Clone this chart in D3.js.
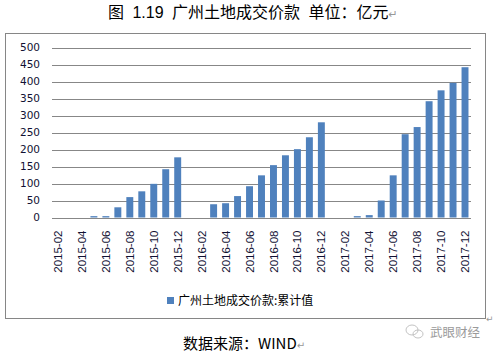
<!DOCTYPE html>
<html><head><meta charset="utf-8">
<script src="https://cdn.jsdelivr.net/npm/d3@7"></script>
<style>html,body{margin:0;padding:0;background:#fff;}</style>
</head><body>
<svg id="c" width="494" height="356"></svg>
<script>
const months = ["2015-02","2015-03","2015-04","2015-05","2015-06","2015-07","2015-08","2015-09","2015-10","2015-11","2015-12",
"2016-01","2016-02","2016-03","2016-04","2016-05","2016-06","2016-07","2016-08","2016-09","2016-10","2016-11","2016-12",
"2017-01","2017-02","2017-03","2017-04","2017-05","2017-06","2017-07","2017-08","2017-09","2017-10","2017-11","2017-12"];
const values = [0,0,0,4,4,30,60,77,99,142,177,
0,0,39,42,63,92,124,154,183,201,236,280,
0,0,4,7,50,124,245,266,342,374,396,442];
const yTicks = [0,50,100,150,200,250,300,350,400,450,500];
const titleText = "图 1.19 广州土地成交价款 单位：亿元";
const legendText = "广州土地成交价款:累计值";
const sourceText = "数据来源：WIND";
const watermark = "武眼财经";

const svg = d3.select("#c");
const pL = 52, pR = 471, pT = 47.5, pB = 217.5;
const x = d3.scaleBand().domain(months).range([pL, pR]).paddingInner(0.42).paddingOuter(0.21);
const y = d3.scaleLinear().domain([0, 500]).range([pB, pT]);

// title
const t = svg.append("text").attr("x", 108).attr("y", 18).attr("font-family", "Liberation Sans, Noto Sans CJK SC").attr("font-size", 16).attr("word-spacing", 4).attr("fill", "#000");
t.append("tspan").text(titleText);
t.append("tspan").attr("fill", "#999").attr("font-size", 11).attr("font-family", "DejaVu Sans").text("↵");

// border
svg.append("rect").attr("x", 5.5).attr("y", 33.5).attr("width", 480).attr("height", 285).attr("fill", "none").attr("stroke", "#868686");
svg.append("text").attr("x", 486).attr("y", 322).attr("font-family", "DejaVu Sans").attr("font-size", 9).attr("fill", "#999").text("↵");

// gridlines
const yAxis = d3.axisLeft(y).tickValues(yTicks).tickSize(-(pR - pL)).tickPadding(12);
const gy = svg.append("g").attr("transform", `translate(${pL},0)`).call(yAxis);
gy.select(".domain").remove();
gy.selectAll(".tick line").attr("stroke", "#878787").attr("shape-rendering", "crispEdges");
gy.selectAll(".tick text").attr("font-family", "DejaVu Sans").attr("font-size", 10.5).attr("fill", "#111133");

// bars
svg.append("g").selectAll("rect").data(months).join("rect")
  .attr("x", (d) => x(d))
  .attr("width", x.bandwidth())
  .attr("y", (d, i) => y(values[i]))
  .attr("height", (d, i) => pB - y(values[i]))
  .attr("fill", "#4f81bd");

// x axis
const xAxis = d3.axisBottom(x).tickValues(months.filter((m, i) => i % 2 === 0)).tickSize(0).tickPadding(0);
const gx = svg.append("g").attr("transform", `translate(0,${pB})`).call(xAxis);
gx.select(".domain").attr("stroke", "#878787").attr("d", `M${pL},0.5H${pR}`).attr("shape-rendering", "crispEdges");
gx.selectAll(".tick text")
  .attr("font-family", "Liberation Sans").attr("font-size", 11.5).attr("fill", "#111133")
  .attr("transform", "rotate(-90)").attr("text-anchor", "end").attr("dy", "0.35em").attr("x", -13).attr("y", 0);

// legend
svg.append("rect").attr("x", 167).attr("y", 297).attr("width", 7).attr("height", 7).attr("fill", "#4f81bd");
svg.append("text").attr("x", 178).attr("y", 305).attr("font-family", "Noto Sans CJK SC").attr("font-size", 12).attr("fill", "#000").text(legendText);

// source
const s = svg.append("text").attr("x", 183).attr("y", 349).attr("font-family", "Noto Sans CJK SC").attr("font-size", 15).attr("fill", "#000");
s.append("tspan").text(sourceText);
s.append("tspan").attr("fill", "#999").attr("font-size", 10).attr("font-family", "DejaVu Sans").text("↵");

// watermark
const wm = svg.append("g").attr("fill", "none").attr("stroke", "#bbb").attr("stroke-width", 0.9);
wm.append("ellipse").attr("cx", 412).attr("cy", 330).attr("rx", 6).attr("ry", 5);
wm.append("ellipse").attr("cx", 418).attr("cy", 334).attr("rx", 5).attr("ry", 4);
svg.append("text").attr("x", 430).attr("y", 337).attr("font-family", "Noto Sans CJK SC").attr("font-size", 12.5).attr("fill", "#9a9a9a").text(watermark);
</script>
</body></html>
